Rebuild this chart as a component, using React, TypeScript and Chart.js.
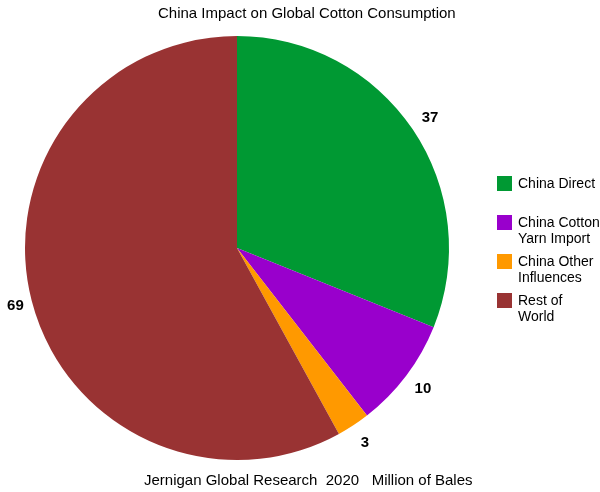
import React, { useEffect, useRef } from "react";
import { Chart, registerables } from "chart.js";

Chart.register(...registerables);

const categories: string[][] = [
  ["China Direct"],
  ["China Cotton", "Yarn Import"],
  ["China Other", "Influences"],
  ["Rest of", "World"],
];
const values = [37, 10, 3, 69];
const colors = ["#009933", "#9900cc", "#ff9900", "#993333"];
const titleText = "China Impact on Global Cotton Consumption";
const subtitleText = "Jernigan Global Research  2020   Million of Bales";

const FONT = "'Liberation Sans', Arial, sans-serif";

const textPlugin = {
  id: "textPlugin",
  afterDraw(chart: any) {
    const ctx = chart.ctx;
    ctx.save();
    ctx.fillStyle = "#000";
    ctx.font = `15px ${FONT}`;
    ctx.textAlign = "left";
    ctx.textBaseline = "middle";
    ctx.fillText(titleText, 158, 14);
    ctx.fillText(subtitleText, 144, 481);

    // value labels
    const meta = chart.getDatasetMeta(0);
    ctx.font = `bold 15px ${FONT}`;
    ctx.textAlign = "center";
    meta.data.forEach((arc: any, i: number) => {
      const p = arc.getProps(["x", "y", "startAngle", "endAngle", "outerRadius"], true);
      const mid = (p.startAngle + p.endAngle) / 2;
      const d = p.outerRadius + 21;
      const w = ctx.measureText(String(values[i])).width;
      const lx = p.x + Math.cos(mid) * d + (Math.cos(mid) < -0.9 ? w / 4 : 0);
      ctx.fillText(String(values[i]), lx, p.y + Math.sin(mid) * d);
    });

    // legend
    ctx.font = `14px ${FONT}`;
    ctx.textAlign = "left";
    categories.forEach((lines, i) => {
      const top = 176 + i * 39;
      ctx.fillStyle = colors[i];
      ctx.fillRect(497, top, 15, 15);
      ctx.fillStyle = "#000";
      lines.forEach((ln, j) => {
        ctx.fillText(ln, 518, top + 8 + j * 16.5);
      });
    });
    ctx.restore();
  },
};

export default function App() {
  const ref = useRef<HTMLCanvasElement>(null);
  useEffect(() => {
    if (!ref.current) return;
    const chart = new Chart(ref.current, {
      type: "pie",
      data: {
        labels: categories,
        datasets: [
          {
            data: values,
            backgroundColor: colors,
            borderWidth: 0,
          },
        ],
      },
      options: {
        animation: false,
        responsive: false,
        maintainAspectRatio: false,
        layout: { padding: { left: 25, right: 151, top: 36, bottom: 32 } },
        plugins: {
          legend: { display: false },
          title: { display: false },
          tooltip: { enabled: false },
        },
      },
      plugins: [textPlugin],
    });
    return () => chart.destroy();
  }, []);
  return (
    <div style={{ position: "absolute", left: 0, top: 0, width: 600, height: 492, background: "#fff" }}>
      <canvas ref={ref} width={600} height={492} style={{ width: 600, height: 492 }} />
    </div>
  );
}
